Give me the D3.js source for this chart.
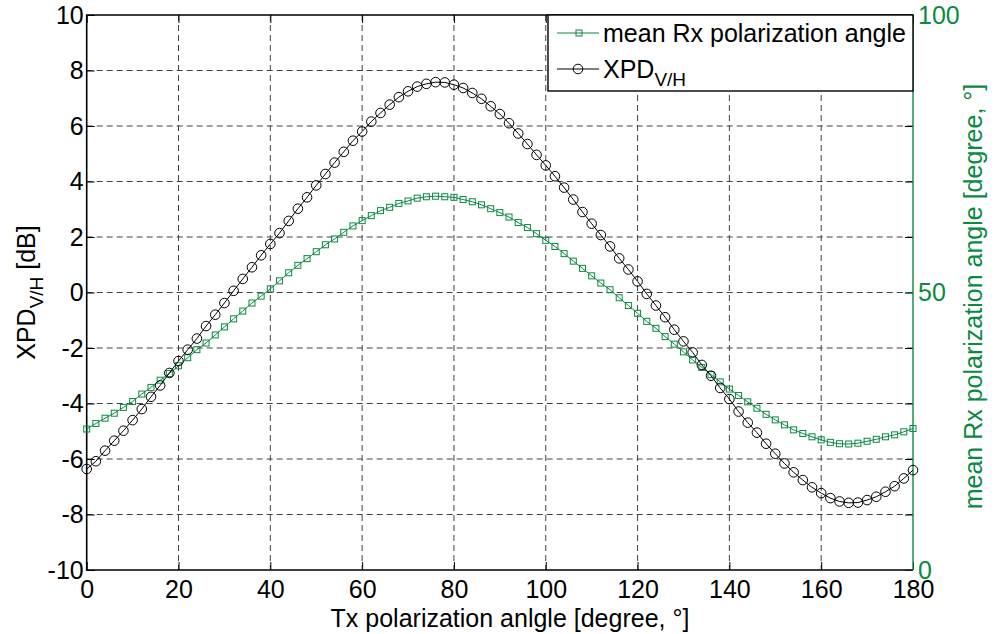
<!DOCTYPE html>
<html>
<head>
<meta charset="utf-8">
<script src="https://cdn.jsdelivr.net/npm/d3@7"></script>
<style>
  html, body { margin: 0; padding: 0; background: #fff; }
  svg { display: block; font-family: "Liberation Sans", Arial, sans-serif; }
</style>
</head>
<body>
<svg id="chart" width="997" height="634"></svg>
<script>
// Tx polarization angle, degrees (every 2°)
const txAngle = d3.range(0, 181, 2);

// XPD V/H, dB
const xpd = [
  -6.36, -6.08, -5.70, -5.34, -4.98, -4.60, -4.20, -3.76, -3.35, -2.90,
  -2.47, -2.06, -1.66, -1.21, -0.80, -0.38, 0.06, 0.49, 0.91, 1.34,
  1.75, 2.14, 2.58, 3.02, 3.43, 3.86, 4.27, 4.68, 5.07, 5.47,
  5.80, 6.16, 6.47, 6.77, 7.04, 7.25, 7.42, 7.52, 7.58, 7.57,
  7.49, 7.37, 7.19, 6.98, 6.71, 6.43, 6.10, 5.73, 5.35, 4.96,
  4.58, 4.19, 3.78, 3.35, 2.90, 2.48, 2.07, 1.66, 1.23, 0.83,
  0.40, -0.05, -0.47, -0.89, -1.34, -1.76, -2.16, -2.61, -3.00, -3.44,
  -3.84, -4.29, -4.69, -5.05, -5.45, -5.81, -6.16, -6.48, -6.76, -7.02,
  -7.23, -7.41, -7.53, -7.58, -7.57, -7.48, -7.36, -7.18, -6.98, -6.70,
  -6.40
];

// mean Rx polarization angle, degrees
const rxAngle = [
  25.4, 26.4, 27.35, 28.25, 29.3, 30.35, 31.7, 32.9, 34.2, 35.4,
  36.8, 38.25, 39.7, 40.9, 42.35, 43.8, 45.25, 46.65, 48.1, 49.35,
  50.65, 52.1, 53.55, 54.9, 56.1, 57.35, 58.6, 59.65, 60.85, 62.0,
  62.95, 63.85, 64.75, 65.35, 66.05, 66.5, 67.0, 67.25, 67.35, 67.25,
  67.15, 66.75, 66.35, 65.8, 65.1, 64.4, 63.6, 62.6, 61.7, 60.6,
  59.4, 58.3, 57.0, 55.65, 54.35, 53.0, 51.7, 50.5, 49.05, 47.65,
  46.25, 44.8, 43.55, 42.05, 40.7, 39.3, 37.85, 36.5, 35.2, 33.9,
  32.6, 31.45, 30.3, 29.15, 28.05, 27.05, 26.15, 25.25, 24.6, 24.0,
  23.45, 23.0, 22.75, 22.7, 22.85, 23.2, 23.55, 24.0, 24.35, 24.9,
  25.5
];

const xTicks = d3.range(0, 181, 20);
const yLeftTicks = d3.range(-10, 11, 2);
const yRightTicks = [0, 50, 100];

const GREEN = "#0a8a43";
const FONT = "Liberation Sans, Arial, sans-serif";
const m = { left: 86.7, right: 913, top: 15, bottom: 570 };
const fontTick = 25;

const svg = d3.select("#chart");

const x = d3.scaleLinear().domain([0, 180]).range([m.left, m.right]);
const yL = d3.scaleLinear().domain([-10, 10]).range([m.bottom, m.top]);
const yR = d3.scaleLinear().domain([0, 100]).range([m.bottom, m.top]);

// plain hyphen for negative numbers
const fmt = d => String(d);

// dashed grid
const grid = svg.append("g").attr("stroke", "#222").attr("stroke-width", 1)
  .attr("stroke-dasharray", "6,4").attr("opacity", 0.85);
grid.selectAll(".gx").data(xTicks.slice(1, -1)).join("line")
  .attr("x1", d => x(d)).attr("x2", d => x(d))
  .attr("y1", m.top).attr("y2", m.bottom);
grid.selectAll(".gy").data(yLeftTicks.slice(1, -1)).join("line")
  .attr("x1", m.left).attr("x2", m.right)
  .attr("y1", d => yL(d)).attr("y2", d => yL(d));

// bottom axis (ticks inward)
const xAxis = svg.append("g").attr("transform", `translate(0,${m.bottom})`)
  .call(d3.axisBottom(x).tickValues(xTicks).tickSize(-8).tickPadding(10).tickFormat(fmt));
// top mirrored ticks
const xTop = svg.append("g").attr("transform", `translate(0,${m.top})`)
  .call(d3.axisTop(x).tickValues(xTicks).tickSize(-8).tickFormat(""));
// left axis
const yAxisL = svg.append("g").attr("transform", `translate(${m.left},0)`)
  .call(d3.axisLeft(yL).tickValues(yLeftTicks).tickSize(-8).tickPadding(3).tickFormat(fmt));
// left ticks mirrored on right edge
const yAxisLR = svg.append("g").attr("transform", `translate(${m.right},0)`)
  .call(d3.axisRight(yL).tickValues(yLeftTicks).tickSize(-8).tickFormat(""));

[xAxis, xTop, yAxisL, yAxisLR].forEach(g => {
  g.select(".domain").remove();
  g.selectAll(".tick line").attr("stroke", "#000").attr("stroke-width", 1);
  g.selectAll("text").attr("font-size", fontTick).attr("fill", "#000")
    .attr("font-family", FONT);
});

// right axis (green)
const yAxisR = svg.append("g").attr("transform", `translate(${m.right},0)`)
  .call(d3.axisRight(yR).tickValues(yRightTicks).tickSize(-8).tickPadding(5).tickFormat(fmt));
yAxisR.select(".domain").remove();
yAxisR.selectAll(".tick line").attr("stroke", GREEN);
yAxisR.selectAll("text").attr("font-size", fontTick).attr("fill", GREEN)
  .attr("font-family", FONT);

// frame
svg.append("path")
  .attr("d", `M${m.right},${m.top}H${m.left}V${m.bottom}H${m.right}`)
  .attr("fill", "none").attr("stroke", "#000").attr("stroke-width", 1.6);
svg.append("line")
  .attr("x1", m.right).attr("x2", m.right).attr("y1", m.top).attr("y2", m.bottom)
  .attr("stroke", GREEN).attr("stroke-width", 1.4);

// series
const lineX = d3.line().x((d, i) => x(txAngle[i])).y(d => yL(d));
const lineR = d3.line().x((d, i) => x(txAngle[i])).y(d => yR(d));

svg.append("path").datum(rxAngle).attr("d", lineR)
  .attr("fill", "none").attr("stroke", GREEN).attr("stroke-width", 1);
svg.append("g").selectAll("rect").data(rxAngle).join("rect")
  .attr("x", (d, i) => x(txAngle[i]) - 3).attr("y", d => yR(d) - 3)
  .attr("width", 6).attr("height", 6)
  .attr("fill", "none").attr("stroke", GREEN).attr("stroke-width", 1);

svg.append("path").datum(xpd).attr("d", lineX)
  .attr("fill", "none").attr("stroke", "#000").attr("stroke-width", 1);
svg.append("g").selectAll("circle").data(xpd).join("circle")
  .attr("cx", (d, i) => x(txAngle[i])).attr("cy", d => yL(d)).attr("r", 4.8)
  .attr("fill", "none").attr("stroke", "#000").attr("stroke-width", 1);

// axis titles
svg.append("text")
  .attr("x", 510).attr("y", 627)
  .attr("text-anchor", "middle").attr("font-size", 25)
  .text("Tx polarization anlgle [degree, °]");

const tl = svg.append("text")
  .attr("transform", `translate(35,${(m.top + m.bottom) / 2}) rotate(-90)`)
  .attr("text-anchor", "middle").attr("font-size", 25);
tl.append("tspan").text("XPD");
tl.append("tspan").attr("font-size", 19).attr("dy", 8).text("V/H");
tl.append("tspan").attr("dy", -8).text(" [dB]");

svg.append("text")
  .attr("transform", `translate(982,${(m.top + m.bottom) / 2 + 4}) rotate(-90)`)
  .attr("text-anchor", "middle").attr("font-size", 25).attr("fill", GREEN)
  .text("mean Rx polarization angle [degree, °]");

// legend
const lg = svg.append("g");
lg.append("rect").attr("x", 548).attr("y", m.top).attr("width", m.right - 548).attr("height", 76)
  .attr("fill", "#fff").attr("stroke", "#000").attr("stroke-width", 1.4);
lg.append("line").attr("x1", 557).attr("x2", 599).attr("y1", 33).attr("y2", 33)
  .attr("stroke", GREEN);
lg.append("rect").attr("x", 576).attr("y", 30).attr("width", 6).attr("height", 6)
  .attr("fill", "none").attr("stroke", GREEN);
lg.append("text").attr("x", 603).attr("y", 42).attr("font-size", 25)
  .text("mean Rx polarization angle");
lg.append("line").attr("x1", 557).attr("x2", 599).attr("y1", 69).attr("y2", 69)
  .attr("stroke", "#000");
lg.append("circle").attr("cx", 578).attr("cy", 69).attr("r", 4.8)
  .attr("fill", "none").attr("stroke", "#000");
const lt = lg.append("text").attr("x", 603).attr("y", 78).attr("font-size", 25);
lt.append("tspan").text("XPD");
lt.append("tspan").attr("font-size", 19).attr("dy", 8).text("V/H");
</script>
</body>
</html>
